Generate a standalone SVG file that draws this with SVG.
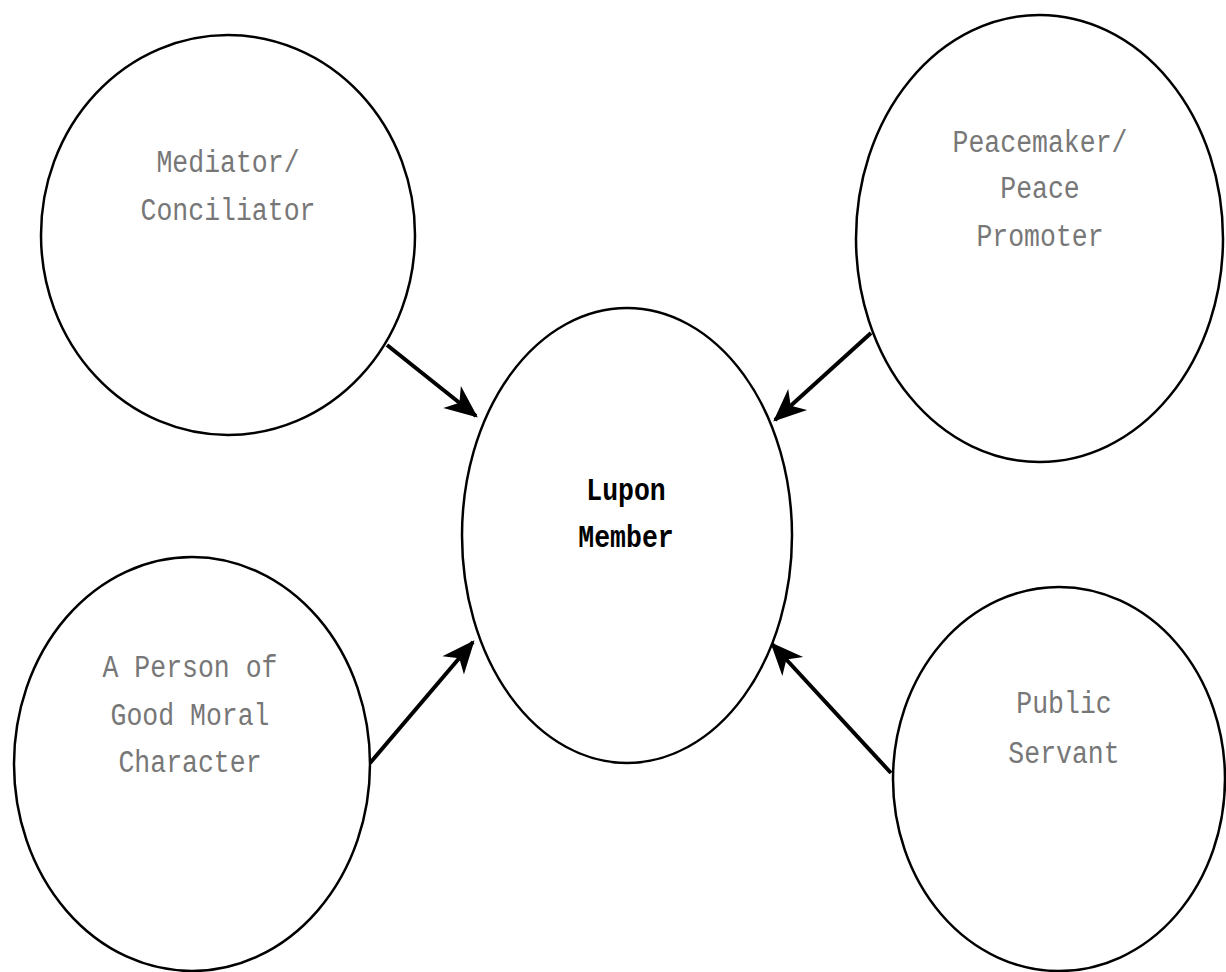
<svg xmlns="http://www.w3.org/2000/svg" width="1226" height="972" viewBox="0 0 1226 972">
<style>
.node{fill:#fff;stroke:#000;stroke-width:2.5}
.lbl{font-family:"Courier New","Liberation Mono",monospace;font-size:26.5px;fill:#777;text-anchor:middle}
.main{font-family:"Courier New","Liberation Mono",monospace;font-size:26.5px;fill:#000;font-weight:bold;text-anchor:middle}
.edge{stroke:#000;stroke-width:4;fill:none;marker-end:url(#ah)}
</style>
<defs>
<marker id="ah" markerUnits="userSpaceOnUse" markerWidth="40" markerHeight="40" viewBox="-30 -15 34 30" refX="0" refY="0" orient="auto">
<path d="M2,0 L-26,-12 L-18,0 L-26,12 Z" fill="#000"/>
</marker>
</defs>
<rect width="1226" height="972" fill="#fff"/>
<g id="connectors">
<line class="edge" x1="387" y1="345" x2="476" y2="416"/>
<line class="edge" x1="871" y1="333" x2="775" y2="420"/>
<line class="edge" x1="370" y1="763" x2="473" y2="642"/>
<line class="edge" x1="891" y1="773" x2="772" y2="644"/>
</g>
<g id="mediator">
<ellipse class="node" cx="228" cy="235" rx="187" ry="200"/>
<text class="lbl" transform="translate(228,172) scale(1,1.2)">Mediator/</text>
<text class="lbl" transform="translate(228,220) scale(1,1.2)">Conciliator</text>
</g>
<g id="peacemaker">
<ellipse class="node" cx="1039.5" cy="238.5" rx="183.5" ry="223.5"/>
<text class="lbl" transform="translate(1040,152) scale(1,1.2)">Peacemaker/</text>
<text class="lbl" transform="translate(1040,198) scale(1,1.2)">Peace</text>
<text class="lbl" transform="translate(1040,246) scale(1,1.2)">Promoter</text>
</g>
<g id="lupon">
<ellipse class="node" cx="627" cy="535.5" rx="165" ry="227.5"/>
<text class="main" transform="translate(626,500) scale(1,1.2)">Lupon</text>
<text class="main" transform="translate(626,547) scale(1,1.2)">Member</text>
</g>
<g id="person">
<ellipse class="node" cx="192" cy="764" rx="178" ry="207"/>
<text class="lbl" transform="translate(190,677) scale(1,1.2)">A Person of</text>
<text class="lbl" transform="translate(190,725) scale(1,1.2)">Good Moral</text>
<text class="lbl" transform="translate(190,772) scale(1,1.2)">Character</text>
</g>
<g id="servant">
<ellipse class="node" cx="1059" cy="779" rx="166" ry="192"/>
<text class="lbl" transform="translate(1064,713) scale(1,1.2)">Public</text>
<text class="lbl" transform="translate(1064,763) scale(1,1.2)">Servant</text>
</g>
</svg>
